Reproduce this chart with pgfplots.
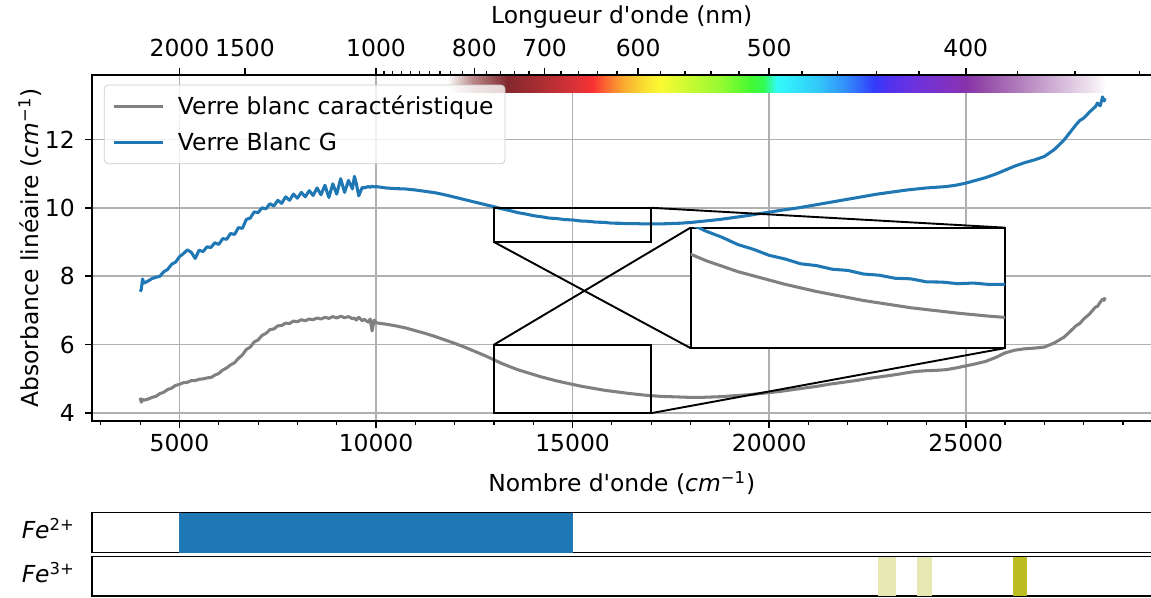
\documentclass[border=0pt]{standalone}
\usepackage{fontspec}
\setmainfont{DejaVu Sans}
\usepackage{pgfplots}
\pgfplotsset{compat=1.18}
\usepackage{pgfplotstable}
\usetikzlibrary{calc}

\definecolor{tabblue}{HTML}{1F77B4}
\definecolor{tabolive}{HTML}{BCBD22}
\definecolor{gridgray}{HTML}{B0B0B0}

% absorbance : nombre d'onde, verre caracteristique (g), verre G (b)
\pgfplotstableread{
wn g b
4000 4.45 7.55
4030 4.32 7.62
4060 4.40 7.92
4100 4.38 7.80
4200 4.41 7.86
4300 4.46 7.93
4400 4.49 7.97
4500 4.57 8.00
4600 4.61 8.13
4700 4.69 8.20
4800 4.73 8.35
4900 4.81 8.41
5000 4.84 8.57
5100 4.89 8.66
5200 4.90 8.77
5300 4.95 8.70
5400 4.95 8.52
5500 4.99 8.76
5600 5.00 8.72
5700 5.03 8.86
5800 5.04 8.84
5900 5.11 8.98
6000 5.16 8.93
6100 5.26 9.10
6200 5.32 9.08
6300 5.41 9.25
6400 5.47 9.22
6500 5.60 9.42
6600 5.70 9.40
6700 5.86 9.66
6800 5.93 9.70
6900 6.08 9.88
7000 6.14 9.86
7100 6.27 10.00
7200 6.33 9.97
7300 6.44 10.12
7400 6.46 10.05
7500 6.55 10.22
7600 6.56 10.13
7700 6.63 10.32
7800 6.62 10.22
7900 6.69 10.40
8000 6.67 10.28
8100 6.73 10.45
8200 6.70 10.32
8300 6.75 10.50
8400 6.73 10.36
8500 6.78 10.58
8600 6.75 10.38
8700 6.80 10.66
8800 6.77 10.30
8900 6.82 10.70
9000 6.78 10.40
9100 6.83 10.85
9200 6.79 10.45
9300 6.82 10.80
9400 6.76 10.55
9450 6.78 10.92
9500 6.72 10.70
9560 6.80 10.35
9650 6.70 10.60
9700 6.74 10.58
9800 6.66 10.62
9850 6.75 10.60
9900 6.40 10.63
9950 6.72 10.61
10000 6.64 10.62
10250 6.60 10.58
10500 6.55 10.56
10750 6.49 10.55
11000 6.41 10.52
11250 6.33 10.48
11500 6.24 10.44
11750 6.14 10.38
12000 6.04 10.31
12250 5.93 10.24
12500 5.81 10.17
12750 5.69 10.10
13000 5.56 10.03
13200 5.45 9.97
13400 5.36 9.92
13600 5.27 9.86
13800 5.20 9.82
14000 5.13 9.77
14200 5.06 9.74
14400 5.00 9.70
14600 4.94 9.685
14800 4.89 9.655
15000 4.84 9.645
15200 4.79 9.615
15400 4.75 9.605
15600 4.71 9.58
15800 4.67 9.575
16000 4.64 9.55
16200 4.61 9.548
16400 4.58 9.535
16600 4.555 9.54
16800 4.53 9.528
17000 4.51 9.53
17250 4.49 9.53
17500 4.48 9.54
17750 4.47 9.55
18000 4.46 9.57
18250 4.46 9.60
18500 4.47 9.63
18750 4.48 9.66
19000 4.50 9.70
19250 4.52 9.74
19500 4.54 9.78
19750 4.57 9.83
20000 4.60 9.87
20250 4.63 9.92
20500 4.67 9.96
20750 4.71 10.00
21000 4.75 10.05
21250 4.79 10.10
21500 4.84 10.15
21750 4.88 10.20
22000 4.92 10.25
22250 4.96 10.30
22500 5.01 10.35
22750 5.05 10.40
23000 5.09 10.44
23250 5.13 10.48
23500 5.18 10.52
23750 5.22 10.55
24000 5.24 10.58
24250 5.25 10.60
24500 5.27 10.62
24750 5.32 10.66
25000 5.38 10.72
25250 5.44 10.80
25500 5.51 10.88
25750 5.62 10.98
26000 5.76 11.10
26250 5.84 11.22
26500 5.88 11.32
26750 5.90 11.40
27000 5.93 11.50
27250 6.05 11.70
27500 6.22 11.98
27650 6.38 12.20
27800 6.55 12.42
27900 6.62 12.55
28000 6.75 12.62
28150 6.90 12.80
28300 7.10 12.96
28350 7.12 13.06
28420 7.24 12.98
28480 7.33 13.24
28520 7.30 13.12
28545 7.38 13.20
}\absdata

% bande du spectre visible : position, hauteur, indice de couleur
\pgfplotstableread{
x y c
11814 13.38 0
12475 13.38 1
13340 13.38 2
14179 13.38 3
15018 13.38 4
15526 13.38 5
15882 13.38 6
16289 13.38 7
16798 13.38 8
17230 13.38 9
17993 13.38 10
18755 13.38 11
19518 13.38 12
19849 13.38 13
20205 13.38 14
21247 13.38 15
21959 13.38 16
22671 13.38 17
23027 13.38 18
23739 13.38 19
24628 13.38 20
25010 13.38 21
25519 13.38 22
26435 13.38 23
27325 13.38 24
28214 13.38 25
28570 13.38 26
11814 13.85 0
12475 13.85 1
13340 13.85 2
14179 13.85 3
15018 13.85 4
15526 13.85 5
15882 13.85 6
16289 13.85 7
16798 13.85 8
17230 13.85 9
17993 13.85 10
18755 13.85 11
19518 13.85 12
19849 13.85 13
20205 13.85 14
21247 13.85 15
21959 13.85 16
22671 13.85 17
23027 13.85 18
23739 13.85 19
24628 13.85 20
25010 13.85 21
25519 13.85 22
26435 13.85 23
27325 13.85 24
28214 13.85 25
28570 13.85 26
}\spectre

\pgfplotsset{
  every axis/.append style={
    scale only axis,
    scaled x ticks=false,
    /pgf/number format/assume math mode=true,
    tick align=outside,
    major tick length=3.5pt,
    minor tick length=2pt,
    axis line style={line width=0.8pt},
    every tick/.style={black, line width=0.8pt},
    every minor tick/.style={black, line width=0.6pt},
  },
}

\begin{document}
\begin{tikzpicture}[font=\fontsize{12.3}{14.8}\selectfont]

\begin{axis}[
  name=main,
  width=556.24pt, height=181.65pt,
  xmin=2775, xmax=29725, ymin=3.77, ymax=13.88,
  xtick={5000,10000,15000,20000,25000},
  xticklabels={5000,10000,15000,20000,25000},
  minor xtick={3000,4000,...,29000},
  ytick={4,6,8,10,12},
  yticklabel style={xshift=-2pt},
  xtick pos=left, ytick pos=left,
  grid=major, grid style={gridgray, line width=0.8pt},
  xlabel={Nombre d\textquotesingle onde (\textit{cm}\textsuperscript{−1})},
  ylabel={Absorbance linéaire (\textit{cm}\textsuperscript{−1})},
  x label style={at={(axis description cs:0.5,-0.179)}, anchor=center},
  y label style={at={(axis description cs:-0.0585,0.5)}, anchor=center},
  colormap={spec}{rgb255=(255,255,255) rgb255=(185,135,135) rgb255=(130,40,45)
    rgb255=(170,45,50) rgb255=(215,50,55) rgb255=(250,50,50) rgb255=(250,110,50)
    rgb255=(250,170,50) rgb255=(250,220,50) rgb255=(250,250,50) rgb255=(200,250,50)
    rgb255=(150,250,50) rgb255=(70,250,50) rgb255=(50,250,80) rgb255=(50,250,250)
    rgb255=(50,200,250) rgb255=(50,140,250) rgb255=(50,60,250) rgb255=(80,50,240)
    rgb255=(110,50,220) rgb255=(130,50,190) rgb255=(135,50,170) rgb255=(150,80,170)
    rgb255=(180,130,190) rgb255=(210,180,215) rgb255=(240,230,240) rgb255=(255,255,255)},
  point meta min=0, point meta max=26,
  legend style={at={(axis description cs:0.0113,0.972)}, anchor=north west,
    draw=black!20, rounded corners=2pt, fill=white, fill opacity=0.8,
    text opacity=1, inner xsep=4pt, inner ysep=3.5pt, row sep=4.1pt, column sep=5pt},
  legend cell align=left,
  legend image code/.code={\draw[#1] (0pt,0pt) -- (26pt,0pt);},
]
\addplot[surf, shader=interp, mesh/cols=27, point meta=explicit, forget plot]
  table[x=x, y=y, meta=c] \spectre;
\addplot[gray, line width=1.6pt, line join=round] table[x=wn, y=g] \absdata;
\addlegendentry{Verre blanc caractéristique}
\addplot[tabblue, line width=1.6pt, line join=round] table[x=wn, y=b] \absdata;
\addlegendentry{Verre Blanc G}
\draw[black, line width=1pt] (axis cs:13000,9) rectangle (axis cs:17000,10);
\draw[black, line width=1pt] (axis cs:13000,4) rectangle (axis cs:17000,6);
\draw[black, line width=1pt] (axis cs:17000,10) -- (axis cs:26000,9.42);
\draw[black, line width=1pt] (axis cs:13000,9) -- (axis cs:18000,5.9);
\draw[black, line width=1pt] (axis cs:13000,6) -- (axis cs:18000,9.42);
\draw[black, line width=1pt] (axis cs:17000,4) -- (axis cs:26000,5.9);
\coordinate (insw) at (axis cs:18000,5.9);
\end{axis}

% axe du haut : longueur d'onde
\begin{axis}[
  at={(main.south west)}, anchor=south west,
  width=556.24pt, height=181.65pt,
  xmin=2775, xmax=29725, ymin=0, ymax=1,
  axis x line*=top, axis y line=none,
  xtick={5000,6666.67,10000,12500,14285.71,16666.67,20000,25000},
  xticklabels={2000,1500,1000,800,700,600,500,400},
  minor xtick={10204.08,10416.67,10638.30,10869.57,11111.11,11363.64,11627.91,
    11904.76,12195.12,12820.51,13157.89,13513.51,13888.89,14705.88,15151.52,
    15625,16129.03,17241.38,17857.14,18518.52,19230.77,20833.33,21739.13,
    22727.27,23809.52,26315.79,27777.78,29411.76},
  xticklabel style={yshift=2.5pt},
  xlabel={Longueur d\textquotesingle onde (nm)},
  x label style={at={(axis description cs:0.5,1.1676)}, anchor=center},
]
\end{axis}

% zoom
\begin{axis}[
  at={(insw)}, anchor=south west,
  width=165.12pt, height=63.25pt,
  xmin=13000, xmax=17000, ymin=9, ymax=10,
  xtick=\empty, ytick=\empty,
  axis background/.style={fill=white},
  axis line style={line width=1pt},
]
\addplot[tabblue, line width=1.6pt, line join=round, restrict x to domain=12800:17200]
  table[x=wn, y=b] \absdata;
\end{axis}
\begin{axis}[
  at={(insw)}, anchor=south west,
  width=165.12pt, height=63.25pt,
  xmin=13000, xmax=17000, ymin=4, ymax=6,
  hide axis,
]
\addplot[gray, line width=1.6pt, line join=round, restrict x to domain=12800:17200]
  table[x=wn, y=g] \absdata;
\end{axis}

% Fe2+
\begin{axis}[
  at={($(main.south west)+(0,-48.14pt)$)}, anchor=north west,
  width=556.24pt, height=21pt,
  xmin=2775, xmax=29725, ymin=0, ymax=1,
  xtick=\empty, ytick=\empty,
  ylabel={\textit{Fe}\textsuperscript{2+}},
  every axis y label/.style={at={(axis description cs:0,0.5)}, anchor=east, xshift=-5.5pt, yshift=2pt},
]
\addplot[fill=tabblue, draw=none] coordinates {(5000,1) (15000,1)} \closedcycle;
\end{axis}

% Fe3+
\begin{axis}[
  at={($(main.south west)+(0,-71.24pt)$)}, anchor=north west,
  width=556.24pt, height=20.63pt,
  xmin=2775, xmax=29725, ymin=0, ymax=1,
  xtick=\empty, ytick=\empty,
  ylabel={\textit{Fe}\textsuperscript{3+}},
  every axis y label/.style={at={(axis description cs:0,0.5)}, anchor=east, xshift=-5.5pt, yshift=2pt},
]
\addplot[fill=tabolive!35, draw=none] coordinates {(22780,1) (23220,1)} \closedcycle;
\addplot[fill=tabolive!35, draw=none] coordinates {(23760,1) (24140,1)} \closedcycle;
\addplot[fill=tabolive, draw=none] coordinates {(26190,1) (26550,1)} \closedcycle;
\end{axis}

\pgfresetboundingbox
\path ($(main.south west)+(-48.3pt,-92.4pt)$) rectangle ($(main.south west)+(555.98pt,221.03pt)$);
\end{tikzpicture}
\end{document}
